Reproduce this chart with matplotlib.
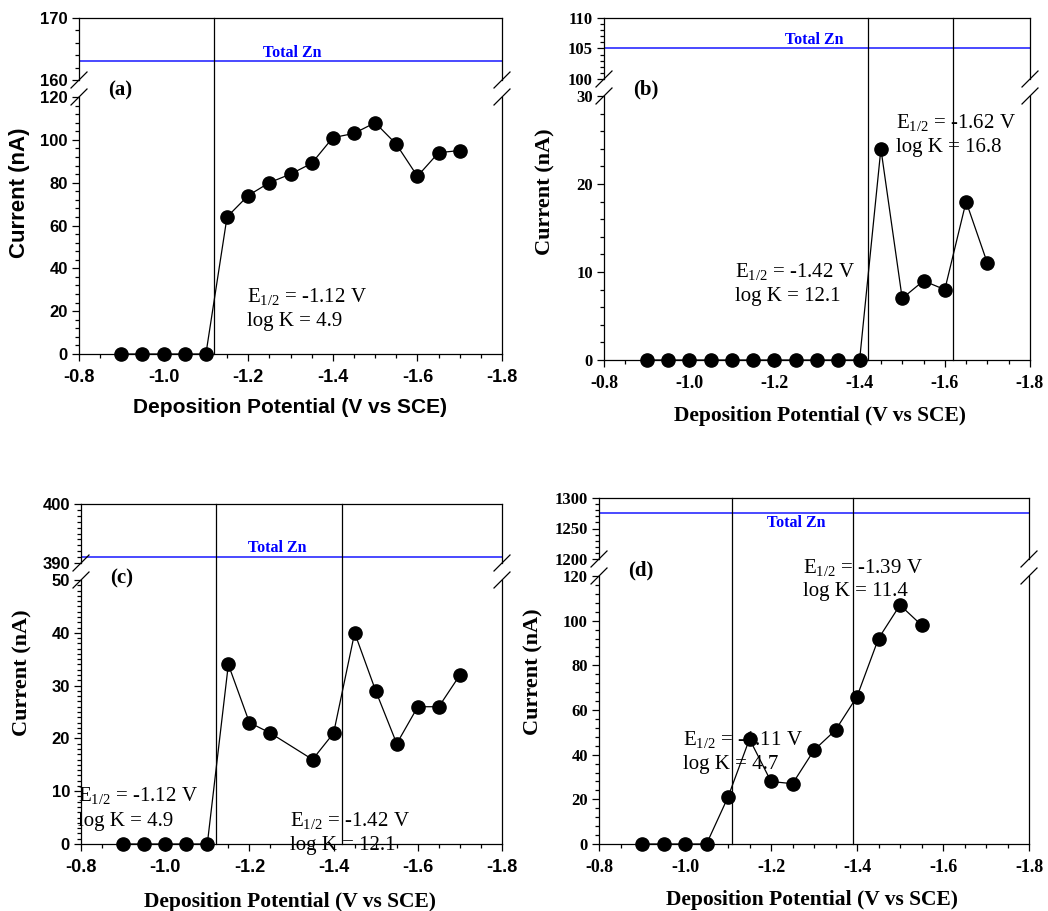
import matplotlib
matplotlib.use("Agg")
import matplotlib.pyplot as plt
import matplotlib.transforms as mtransforms
from matplotlib.lines import Line2D
from matplotlib.ticker import MultipleLocator, FormatStrFormatter

plt.rcParams['axes.unicode_minus'] = False
plt.rcParams['font.weight'] = 'bold'
plt.rcParams['mathtext.fontset'] = 'custom'
plt.rcParams['mathtext.rm'] = 'Liberation Serif:weight=normal'
plt.rcParams['mathtext.it'] = 'Liberation Serif:italic:weight=normal'

SANS = 'Liberation Sans'
SERIF = 'Liberation Serif'
W, H = 1048, 911

# --- data ---
pot_a = [-0.90, -0.95, -1.00, -1.05, -1.10, -1.15, -1.20, -1.25, -1.30,
         -1.35, -1.40, -1.45, -1.50, -1.55, -1.60, -1.65, -1.70]
cur_a = [0, 0, 0, 0, 0, 64, 74, 80, 84, 89, 101, 103, 108, 98, 83, 94, 95]
e12_a = [-1.12]
logk_a = [4.9]
total_a = 163

pot_b = [-0.90, -0.95, -1.00, -1.05, -1.10, -1.15, -1.20, -1.25, -1.30,
         -1.35, -1.40, -1.45, -1.50, -1.55, -1.60, -1.65, -1.70]
cur_b = [0, 0, 0, 0, 0, 0, 0, 0, 0, 0, 0, 24, 7, 9, 8, 18, 11]
e12_b = [-1.42, -1.62]
logk_b = [12.1, 16.8]
total_b = 105

pot_c = [-0.90, -0.95, -1.00, -1.05, -1.10, -1.15, -1.20, -1.25,
         -1.35, -1.40, -1.45, -1.50, -1.55, -1.60, -1.65, -1.70]
cur_c = [0, 0, 0, 0, 0, 34, 23, 21, 16, 21, 40, 29, 19, 26, 26, 32]
e12_c = [-1.12, -1.42]
logk_c = [4.9, 12.1]
total_c = 391

pot_d = [-0.90, -0.95, -1.00, -1.05, -1.10, -1.15, -1.20, -1.25, -1.30,
         -1.35, -1.40, -1.45, -1.50, -1.55]
cur_d = [0, 0, 0, 0, 21, 47, 28, 27, 42, 51, 66, 92, 107, 98]
e12_d = [-1.11, -1.39]
logk_d = [4.7, 11.4]
total_d = 1275

fig = plt.figure(figsize=(W / 100, H / 100), dpi=100)


def fx(px):
    return px / W


def fy(py):
    return 1 - py / H


def pxline(x0, y0, x1, y1):
    fig.add_artist(Line2D([fx(x0), fx(x1)], [fy(y0), fy(y1)],
                          transform=fig.transFigure, color='k', lw=0.9))


def panel(box, xs, ys, e12, total, top_lim, top_major, top_minor,
          bot_lim, bot_major, bot_minor, tick_font):
    left, right, ttop, tbot, btop, bbot = box
    axt = fig.add_axes([fx(left), fy(tbot), fx(right - left), (tbot - ttop) / H])
    axb = fig.add_axes([fx(left), fy(bbot), fx(right - left), (bbot - btop) / H])

    for ax in (axt, axb):
        ax.set_xlim(-0.8, -1.8)
        for s in ax.spines.values():
            s.set_linewidth(0.9)
        ax.tick_params(which='both', direction='out', top=False, right=False,
                       width=0.9, labelfontfamily=tick_font)
        ax.tick_params(which='major', length=5)
        ax.tick_params(which='minor', length=3)
        ax.tick_params(axis='y', labelsize=12, pad=3)
        ax.yaxis.set_major_formatter(FormatStrFormatter('%d'))
    axt.spines['bottom'].set_visible(False)
    axb.spines['top'].set_visible(False)
    axt.tick_params(axis='x', which='both', bottom=False, labelbottom=False)

    axt.set_ylim(*top_lim)
    axt.yaxis.set_major_locator(MultipleLocator(top_major))
    axt.yaxis.set_minor_locator(MultipleLocator(top_minor))
    axb.set_ylim(*bot_lim)
    axb.yaxis.set_major_locator(MultipleLocator(bot_major))
    axb.yaxis.set_minor_locator(MultipleLocator(bot_minor))
    axb.xaxis.set_major_locator(MultipleLocator(0.2))
    axb.xaxis.set_minor_locator(MultipleLocator(0.05))
    axb.xaxis.set_major_formatter(FormatStrFormatter('%.1f'))
    axb.tick_params(axis='x', labelsize=13, pad=6)

    axb.plot(xs, ys, color='k', lw=0.9, marker='o', markersize=9.5,
             markerfacecolor='k', markeredgecolor='k', clip_on=False, zorder=5)
    axt.axhline(total, color='#3a3aff', lw=1.3)

    # vertical E1/2 lines running through both axes
    tr = mtransforms.blended_transform_factory(axb.transData, fig.transFigure)
    for e in e12:
        fig.add_artist(Line2D([e, e], [fy(bbot), fy(ttop)], transform=tr,
                              color='k', lw=0.9))

    # break marks
    d = 8
    for xe in (left, right):
        pxline(xe - d, tbot + d, xe + d, tbot - d)
        pxline(xe - d, btop + d, xe + d, btop - d)
    return axt, axb


def txt(px, py, s, **kw):
    fig.text(fx(px), fy(py), s, **kw)


def note(ax, x, y, e, k, gap):
    ax.text(x, y, r"E$_{\mathrm{1/2}}$ = %.2f V" % e, fontfamily=SERIF,
            fontweight='normal', fontsize=15, va='center')
    ax.text(x, y - gap, "log K = %.1f" % k, fontfamily=SERIF,
            fontweight='normal', fontsize=15, va='center')


def labels(tag, tag_xy, zn_xy, xl_xy, yl_xy, xfont, yfont):
    txt(*zn_xy, "Total Zn", color='blue', fontfamily=SERIF, fontsize=11.5,
        ha='center', va='center')
    txt(*tag_xy, tag, fontfamily=SERIF, fontsize=15, va='center')
    txt(*xl_xy, "Deposition Potential (V vs SCE)", fontfamily=xfont,
        fontsize=15 if xfont == SANS else 15.5, ha='center', va='center')
    txt(*yl_xy, "Current (nA)", fontfamily=yfont, fontsize=16,
        ha='center', va='center', rotation=90)


# ---------------- panel (a) ----------------
axt, axb = panel((79, 502, 18, 80, 97, 354), pot_a, cur_a, e12_a, total_a,
                 (160, 170), 10, 2, (0, 120), 20, 4, SANS)
note(axb, -1.198, 27, e12_a[0], logk_a[0], 11.6)
labels("(a)", (108, 90), (292, 53), (290, 408), (20, 193), SANS, SANS)

# ---------------- panel (b) ----------------
axt, axb = panel((604, 1030, 18, 79, 96, 360), pot_b, cur_b, e12_b, total_b,
                 (100, 110), 5, 1, (0, 30), 10, 2, SERIF)
note(axb, -1.1075, 10.0, e12_b[0], logk_b[0], 2.8)
note(axb, -1.485, 27.0, e12_b[1], logk_b[1], 2.8)
labels("(b)", (633, 89), (814, 40), (820, 416), (545, 192), SERIF, SERIF)

# ---------------- panel (c) ----------------
axt, axb = panel((81, 502, 504, 563, 580, 844), pot_c, cur_c, e12_c, total_c,
                 (390, 400), 10, 1, (0, 50), 10, 1, SANS)
note(axb, -0.793, 9.1, e12_c[0], logk_c[0], 4.9)
note(axb, -1.296, 4.5, e12_c[1], logk_c[1], 4.7)
labels("(c)", (110, 578), (277, 548), (290, 902), (22, 673), SERIF, SERIF)

# ---------------- panel (d) ----------------
axt, axb = panel((599, 1029, 498, 559, 576, 844), pot_d, cur_d, e12_d, total_d,
                 (1200, 1300), 50, 10, (0, 120), 20, 4, SERIF)
note(axb, -0.995, 46.7, e12_d[0], logk_d[0], 11.2)
note(axb, -1.274, 124, e12_d[1], logk_d[1], 11)
labels("(d)", (628, 570), (796, 523), (812, 900), (533, 672), SERIF, SERIF)

fig.savefig("out.png", dpi=100)
